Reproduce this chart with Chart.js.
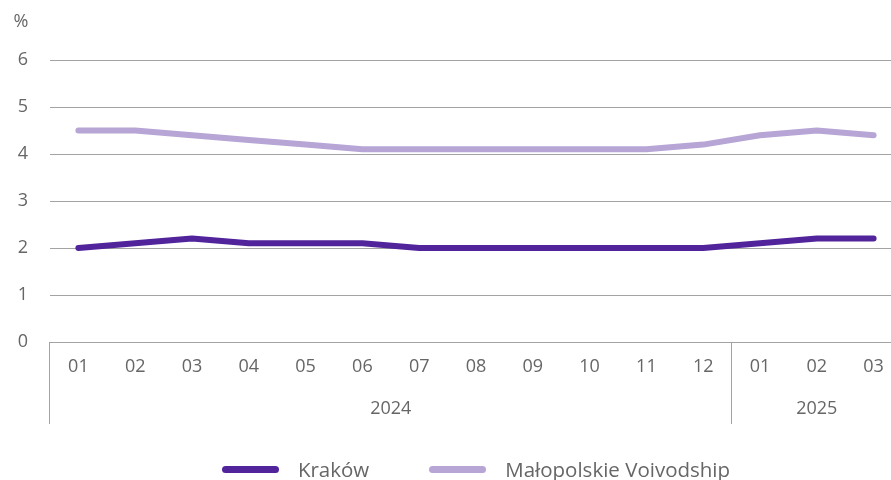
<!DOCTYPE html>
<html>
<head>
<meta charset="utf-8">
<script src="https://cdn.jsdelivr.net/npm/chart.js@4"></script>
<style>
  html, body { margin: 0; padding: 0; background: #fff; overflow: hidden; }
  #wrap { position: relative; width: 902px; height: 480px; }
  #legend { position: absolute; top: 455px; left: 50px; width: 852px; display: flex; justify-content: center; font-family: "Open Sans", sans-serif; font-size: 20.5px; color: #666; }
  .item { display: flex; align-items: center; margin: 0 30px; white-space: nowrap; }
  .swatch { width: 57px; height: 7px; border-radius: 4px; margin-right: 19px; }
</style>
</head>
<body>
<div id="wrap">
  <canvas id="c" width="902" height="480"></canvas>
  <div id="legend"></div>
</div>
<script>
const months = ['01','02','03','04','05','06','07','08','09','10','11','12','01','02','03'];
const yearLabels = ['2024', '2025'];
const yearCounts = [12, 3];
const seriesNames = ['Kraków', 'Małopolskie Voivodship'];
const krakow = [2.0, 2.1, 2.2, 2.1, 2.1, 2.1, 2.0, 2.0, 2.0, 2.0, 2.0, 2.0, 2.1, 2.2, 2.2];
const malopolskie = [4.5, 4.5, 4.4, 4.3, 4.2, 4.1, 4.1, 4.1, 4.1, 4.1, 4.1, 4.2, 4.4, 4.5, 4.4];
const yTicksMin = 0, yTicksMax = 6, yStep = 1;
const unitLabel = '%';
const colors = ['#52249b', '#b7a5d6'];

const FONT = '"Open Sans", sans-serif';
const TXT = '#666666';
const GRID = '#a3a3a3';

const extras = {
  id: 'extras',
  afterDraw(chart) {
    const ctx = chart.ctx;
    const x = chart.scales.x;
    const top = chart.chartArea.bottom;
    const bottom = 424;
    ctx.save();
    ctx.strokeStyle = GRID;
    ctx.lineWidth = 1;
    ctx.beginPath();
    ctx.moveTo(Math.round(chart.chartArea.left) - 0.5, top);
    ctx.lineTo(Math.round(chart.chartArea.left) - 0.5, bottom);
    ctx.stroke();
    ctx.fillStyle = TXT;
    ctx.font = '18px ' + FONT;
    ctx.textAlign = 'center';
    ctx.textBaseline = 'middle';
    let start = 0;
    yearCounts.forEach((n, i) => {
      const end = start + n - 1;
      const cx = (x.getPixelForValue(start) + x.getPixelForValue(end)) / 2;
      ctx.fillText(yearLabels[i], cx, 409);
      if (i > 0) {
        const sx = Math.round((x.getPixelForValue(start - 1) + x.getPixelForValue(start)) / 2) - 0.5;
        ctx.beginPath();
        ctx.moveTo(sx, top);
        ctx.lineTo(sx, bottom);
        ctx.stroke();
      }
      start = end + 1;
    });
    ctx.fillText(unitLabel, 21, 22);
    ctx.restore();
  }
};

new Chart(document.getElementById('c'), {
  type: 'line',
  data: {
    labels: months,
    datasets: [
      { label: seriesNames[0], data: krakow, borderColor: colors[0], backgroundColor: colors[0] },
      { label: seriesNames[1], data: malopolskie, borderColor: colors[1], backgroundColor: colors[1] }
    ].map(d => Object.assign(d, { borderWidth: 6, pointRadius: 0, tension: 0, borderCapStyle: 'round', borderJoinStyle: 'round', fill: false }))
  },
  options: {
    responsive: false,
    animation: false,
    devicePixelRatio: 1,
    layout: { padding: { top: 60, right: 0, bottom: 0, left: 0 } },
    plugins: { legend: { display: false }, tooltip: { enabled: false } },
    scales: {
      x: {
        offset: true,
        grid: { display: false, drawTicks: false },
        border: { display: false },
        ticks: { color: TXT, font: { family: FONT, size: 18 }, padding: 14, maxRotation: 0, autoSkip: false },
        afterFit(s) { s.height = 138; }
      },
      y: {
        min: yTicksMin, max: yTicksMax,
        grid: { color: GRID, lineWidth: 1, drawTicks: false },
        border: { display: false },
        ticks: { stepSize: yStep, color: TXT, font: { family: FONT, size: 18 }, padding: 22 },
        afterFit(s) { s.width = 50; }
      }
    }
  },
  plugins: [extras]
});

const lg = document.getElementById('legend');
seriesNames.forEach((n, i) => {
  const it = document.createElement('div');
  it.className = 'item';
  const sw = document.createElement('span');
  sw.className = 'swatch';
  sw.style.background = colors[i];
  const t = document.createElement('span');
  t.textContent = n;
  it.appendChild(sw); it.appendChild(t);
  lg.appendChild(it);
});
</script>
</body>
</html>
